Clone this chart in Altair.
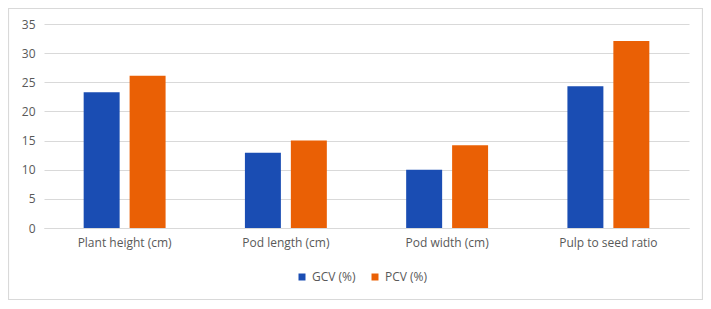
import altair as alt
import pandas as pd

categories = ["Plant height (cm)", "Pod length (cm)", "Pod width (cm)", "Pulp to seed ratio"]
series = ["GCV (%)", "PCV (%)"]
gcv = [23.3, 12.9, 10.0, 24.3]
pcv = [26.1, 15.0, 14.2, 32.1]
y_ticks = [0, 5, 10, 15, 20, 25, 30, 35]
colors = ["#1A4DB3", "#EA6005"]

rows = []
for c, g, p in zip(categories, gcv, pcv):
    rows.append({"cat": c, "series": series[0], "value": g})
    rows.append({"cat": c, "series": series[1], "value": p})
df = pd.DataFrame(rows)

W, H = 645, 204
FONT = "Open Sans"
TXT = "#595959"

bars = alt.Chart(df).mark_bar().encode(
    x=alt.X("cat:N", sort=categories,
            scale=alt.Scale(paddingInner=0.492, paddingOuter=0.246),
            axis=alt.Axis(title=None, labelAngle=0, tickSize=0, domain=True,
                          domainColor="#d9d9d9", labelPadding=9,
                          labelFont=FONT, labelFontSize=12, labelColor=TXT)),
    xOffset=alt.XOffset("series:N", sort=series,
                        scale=alt.Scale(paddingInner=0.217, paddingOuter=0)),
    y=alt.Y("value:Q", scale=alt.Scale(domain=[0, 35], nice=False),
            axis=alt.Axis(title=None, values=y_ticks, tickSize=0, domain=False,
                          grid=True, gridColor="#d9d9d9", labelPadding=9,
                          labelFont=FONT, labelFontSize=12, labelColor=TXT)),
    color=alt.Color("series:N", sort=series,
                    scale=alt.Scale(domain=series, range=colors),
                    legend=alt.Legend(title=None, orient="none", direction="horizontal",
                                      legendX=252, legendY=247, symbolType="square",
                                      symbolSize=49, symbolStrokeWidth=0,
                                      labelOffset=4, columnPadding=13, padding=0,
                                      labelFont=FONT, labelFontSize=12, labelColor=TXT)),
)

frame = alt.Chart(pd.DataFrame({"a": [0]})).mark_rect(
    fill=None, stroke="#d9d9d9", strokeWidth=1.2
).encode(
    x=alt.value(-35.5), x2=alt.value(W + 13.5),
    y=alt.value(-15.5), y2=alt.value(275.5)
)

chart = alt.layer(frame, bars).properties(
    width=W, height=H,
    background="white",
    autosize=alt.AutoSizeParams(type="none"),
    padding={"left": 36, "top": 16, "right": 14, "bottom": 73},
).configure_view(stroke=None, strokeWidth=0)

chart.save("out.html", embed_options={"renderer": "svg", "actions": False})
